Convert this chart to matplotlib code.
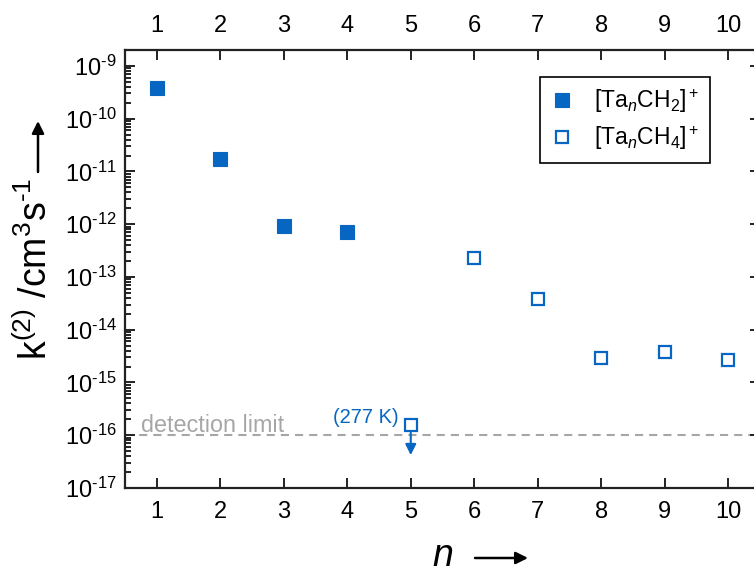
import numpy as np
import matplotlib
matplotlib.use("Agg")
import matplotlib.pyplot as plt
from matplotlib.ticker import LogLocator, NullFormatter, FuncFormatter

plt.rcParams['font.family'] = ['Liberation Sans', 'DejaVu Sans']
plt.rcParams['mathtext.fontset'] = 'custom'
plt.rcParams['mathtext.rm'] = 'Liberation Sans'
plt.rcParams['mathtext.it'] = 'Liberation Sans:italic'
plt.rcParams['mathtext.bf'] = 'Liberation Sans:bold'

# rate constants k(2) in cm^3 s^-1 per cluster size n
n_ch2 = [1, 2, 3, 4]
k_ch2 = [3.8e-10, 1.73e-11, 9.1e-13, 7.2e-13]

n_ch4 = [6, 7, 8, 9, 10]
k_ch4 = [2.26e-13, 3.9e-14, 2.9e-15, 3.7e-15, 2.65e-15]

# Ta5 measured at 277 K, upper limit only
n_ta5 = 5
k_ta5 = 1.56e-16
k_ta5_arrow = 4.2e-17

detection_limit = 1e-16

blue = '#0766c2'
grey = '#a6a6a6'


def decade_label(v, pos):
    e = int(round(np.log10(v)))
    return r'10$^{\text{%d}}$' % e


fig = plt.figure(figsize=(7.54, 5.7), dpi=100)
ax = fig.add_axes([125 / 754, 82 / 570, 635 / 754, 438 / 570])

ax.axhline(detection_limit, color=grey, lw=1.5, ls=(0, (3.9, 2.9)), zorder=1)
ax.text(0.75, 1.14e-16, 'detection limit', color=grey, fontsize=16.8,
        ha='left', va='baseline')

ax.plot(n_ch2, k_ch2, 's', color=blue, ms=9.5, mew=0.8, ls='none',
        label=r'[Ta$_n$CH$_2$]$^+$', zorder=3)
ax.plot(n_ch4, k_ch4, 's', mfc='white', mec=blue, ms=8.6, mew=1.6, ls='none',
        label=r'[Ta$_n$CH$_4$]$^+$', zorder=3)
ax.plot([n_ta5], [k_ta5], 's', mfc='white', mec=blue, ms=8.6, mew=1.6,
        ls='none', zorder=3)
ax.annotate('', xy=(n_ta5, k_ta5_arrow), xytext=(n_ta5, k_ta5),
            arrowprops=dict(arrowstyle='-|>', color=blue, lw=1.5,
                            shrinkA=5.5, shrinkB=0, mutation_scale=16),
            zorder=2)
ax.text(4.81, 2.2e-16, '(277 K)', color=blue, fontsize=14.5,
        ha='right', va='center')

ax.set_yscale('log')
ax.set_xlim(0.5, 10.5)
ax.set_ylim(1e-17, 2e-9)
ax.set_xticks(range(1, 11))
ax.yaxis.set_major_locator(LogLocator(base=10, numticks=30))
ax.yaxis.set_major_formatter(FuncFormatter(decade_label))
ax.yaxis.set_minor_locator(LogLocator(base=10, subs=np.arange(2, 10), numticks=30))
ax.yaxis.set_minor_formatter(NullFormatter())

ax.tick_params(axis='both', which='both', direction='in', top=True, right=True,
               width=1.4, color='#222222')
ax.tick_params(axis='x', which='major', length=7, labelsize=17, pad=9,
               labeltop=True, labelbottom=True)
ax.tick_params(axis='y', which='major', length=7, labelsize=17, pad=6)
ax.tick_params(axis='y', which='minor', length=4)
for sp in ax.spines.values():
    sp.set_linewidth(1.6)
    sp.set_color('#222222')

leg = ax.legend(loc='upper right', bbox_to_anchor=(710 / 754, 493 / 570),
                bbox_transform=fig.transFigure, borderaxespad=0,
                fontsize=16.5, numpoints=1, handlelength=1.0, handletextpad=0.9,
                borderpad=0.45, labelspacing=0.4, fancybox=False,
                framealpha=1, edgecolor='black')
leg.get_frame().set_linewidth(1.2)

# axis titles with long arrows
fig.text(36 / 754, 210 / 570, r'k$^{(2)}$ /cm$^3$s$^{\text{-1}}$', rotation=90,
         fontsize=27, ha='center', va='bottom')
ax.annotate('', xy=(38, 570 - 121), xytext=(38, 570 - 172),
            xycoords='figure pixels', textcoords='figure pixels',
            arrowprops=dict(arrowstyle='-|>', color='black', lw=1.8,
                            shrinkA=0, shrinkB=0, mutation_scale=18),
            annotation_clip=False)
fig.text(443 / 754, 4 / 570, 'n', style='italic', fontsize=27,
         ha='center', va='baseline')
ax.annotate('', xy=(528, 12), xytext=(475, 12),
            xycoords='figure pixels', textcoords='figure pixels',
            arrowprops=dict(arrowstyle='-|>', color='black', lw=1.8,
                            shrinkA=0, shrinkB=0, mutation_scale=18),
            annotation_clip=False)

fig.savefig('out.png', dpi=100)
